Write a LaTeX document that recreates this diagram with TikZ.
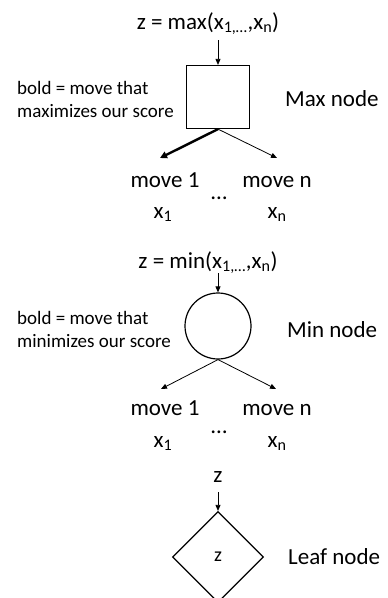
\documentclass[tikz,border=0pt]{standalone}
\usepackage{fontspec}
\setmainfont{Carlito}
\usetikzlibrary{arrows.meta,shapes.geometric}

\begin{document}
\begin{tikzpicture}[x=1pt,y=-1pt,
    big/.style={font=\fontsize{23}{26}\selectfont, inner sep=0pt, anchor=base},
    small/.style={font=\fontsize{19}{23}\selectfont, align=left, inner sep=0pt},
    arr/.style={-{Triangle[length=6pt,width=5pt]}, line width=0.8pt},
    boldarr/.style={-{Triangle[length=7pt,width=7pt]}, line width=2.4pt}]
    \useasboundingbox (0,0) rectangle (388,598);
    % max node
    \node[big] (maxval) at (208,29) {z = max(x\textsubscript{1,…},x\textsubscript{n})};
    \coordinate (maxin) at (218,40);
    \node[draw, line width=1.2pt, minimum size=63pt, inner sep=0pt] (maxnode) at (218,97) {};
    \draw[arr] (maxin) -- (maxnode.north);
    \node[small, anchor=west] (maxnote) at (17,99) {bold = move that\\maximizes our score};
    \node[big, anchor=base west] (maxname) at (285,106) {Max node};
    \coordinate (maxa) at (160,158);
    \coordinate (maxb) at (277,158);
    \draw[boldarr] (maxnode.south) -- (maxa);
    \draw[arr] (maxnode.south) -- (maxb);
    \node[big] (maxm1) at (165,187) {move 1};
    \node[big] (maxmn) at (277,187) {move n};
    \node[big] (maxdots) at (219,199) {…};
    \node[big] (maxx1) at (163,218) {x\textsubscript{1}};
    \node[big] (maxxn) at (277,218) {x\textsubscript{n}};
    % min node
    \node[big] (minval) at (208,268) {z = min(x\textsubscript{1,…},x\textsubscript{n})};
    \coordinate (minin) at (218,273);
    \node[draw, circle, line width=1.2pt, minimum size=66pt, inner sep=0pt] (minnode) at (218,326) {};
    \draw[arr] (minin) -- (minnode.north);
    \node[small, anchor=west] (minnote) at (17,329) {bold = move that\\minimizes our score};
    \node[big, anchor=base west] (minname) at (287,337) {Min node};
    \coordinate (mina) at (161,389);
    \coordinate (minb) at (276,389);
    \draw[arr] (minnode.south) -- (mina);
    \draw[arr] (minnode.south) -- (minb);
    \node[big] (minm1) at (165,415) {move 1};
    \node[big] (minmn) at (277,415) {move n};
    \node[big] (mindots) at (219,433) {…};
    \node[big] (minx1) at (163,447) {x\textsubscript{1}};
    \node[big] (minxn) at (277,447) {x\textsubscript{n}};
    % leaf node
    \node[big] (leafval) at (218,482) {z};
    \coordinate (leafin) at (218,492);
    \node[draw, diamond, line width=1.2pt, minimum size=91pt, inner sep=0pt, aspect=1] (leafnode) at (218,557) {};
    \node[big, font=\fontsize{20}{24}\selectfont] (leafz) at (218,561) {z};
    \draw[arr] (leafin) -- (leafnode.north);
    \node[big, anchor=base west] (leafname) at (288,564) {Leaf node};
\end{tikzpicture}
\end{document}
